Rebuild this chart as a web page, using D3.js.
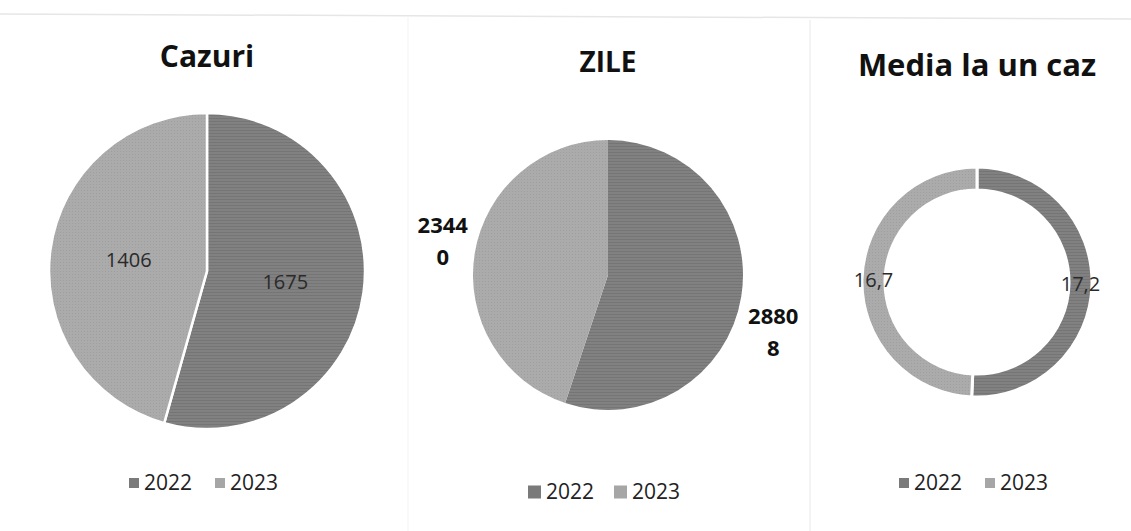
<!DOCTYPE html>
<html>
<head>
<meta charset="utf-8">
<script src="https://cdn.jsdelivr.net/npm/d3@7"></script>
<style>
  body { margin: 0; background: #fff; }
  svg { display: block; font-family: "Open Sans", sans-serif; }
</style>
</head>
<body>
<div id="chart"></div>
<script>
// data
var years = ["2022", "2023"];
var cazuri = [1675, 1406];
var zile = [28808, 23440];
var media = [17.2, 16.7];
var titles = ["Cazuri", "ZILE", "Media la un caz"];

var W = 1131, H = 531;
var svg = d3.select("#chart").append("svg").attr("width", W).attr("height", H);

// hatch-like fills to mimic the scanned texture
var defs = svg.append("defs");
var p1 = defs.append("pattern").attr("id", "pat2022").attr("patternUnits", "userSpaceOnUse")
  .attr("width", 4).attr("height", 3);
p1.append("rect").attr("width", 4).attr("height", 3).attr("fill", "#818181");
p1.append("rect").attr("width", 4).attr("height", 1).attr("fill", "#757575");
var p2 = defs.append("pattern").attr("id", "pat2023").attr("patternUnits", "userSpaceOnUse")
  .attr("width", 3).attr("height", 3);
p2.append("rect").attr("width", 3).attr("height", 3).attr("fill", "#ababab");
p2.append("rect").attr("width", 1).attr("height", 1).attr("fill", "#9e9e9e");

var colour = d3.scaleOrdinal().domain(years).range(["url(#pat2022)", "url(#pat2023)"]);
var swatch = d3.scaleOrdinal().domain(years).range(["#7a7a7a", "#a6a6a6"]);

// faint panel borders from the scan
svg.append("line").attr("x1", 0).attr("y1", 14).attr("x2", W).attr("y2", 19)
  .attr("stroke", "#e6e6e6").attr("stroke-width", 1.5);
svg.append("line").attr("x1", 408).attr("y1", 16).attr("x2", 408).attr("y2", H)
  .attr("stroke", "#f3f3f3");
svg.append("line").attr("x1", 810).attr("y1", 20).attr("x2", 810).attr("y2", H)
  .attr("stroke", "#e8e8e8");

var commaFmt = d3.formatLocale({decimal: ",", thousands: "", grouping: [3], currency: ["", ""]}).format(".1f");

var pie = d3.pie().sort(null).value(function (d) { return d; });

function rows(values) {
  return pie(values).map(function (a, i) { a.year = years[i]; return a; });
}

// draws one legend row centred on cx
function legend(g, cx, y, size) {
  var itemW = 86;
  var lg = g.append("g").attr("transform", "translate(" + (cx - itemW + 4) + "," + y + ")");
  years.forEach(function (yr, i) {
    var it = lg.append("g").attr("transform", "translate(" + (i * itemW) + ",0)");
    it.append("rect").attr("x", 0).attr("y", -size / 2).attr("width", size).attr("height", size)
      .attr("fill", swatch(yr));
    it.append("text").attr("x", size + 5).attr("y", 0).attr("dy", "0.35em")
      .style("font-size", "21px").attr("fill", "#222").text(yr);
  });
}

function title(g, cx, y, txt, size) {
  g.append("text").attr("x", cx).attr("y", y).attr("text-anchor", "middle")
    .style("font-size", size + "px").style("font-weight", "bold").attr("fill", "#111").text(txt);
}

// ---- Cazuri: full pie with white separator, labels inside
(function () {
  var cx = 207, cy = 271, r = 158;
  var g = svg.append("g");
  title(g, cx, 67, titles[0], 30);
  var arc = d3.arc().innerRadius(0).outerRadius(r);
  var lab = d3.arc().innerRadius(r * 0.5).outerRadius(r * 0.5);
  var pg = g.append("g").attr("transform", "translate(" + cx + "," + cy + ")");
  var data = rows(cazuri);
  pg.selectAll("path").data(data).enter().append("path")
    .attr("d", arc).attr("fill", function (d) { return colour(d.year); })
    .attr("stroke", "#fff").attr("stroke-width", 2.5);
  pg.selectAll("text").data(data).enter().append("text")
    .attr("transform", function (d) { return "translate(" + lab.centroid(d) + ")"; })
    .attr("text-anchor", "middle").attr("dy", "0.35em")
    .style("font-size", "20px").attr("fill", "#2a2a2a")
    .text(function (d) { return d.value; });
  legend(g, cx + 4, 483, 10);
})();

// ---- ZILE: pie with bold wrapped labels outside
(function () {
  var cx = 608, cy = 275, r = 135;
  var g = svg.append("g");
  title(g, cx, 72, titles[1], 28);
  var arc = d3.arc().innerRadius(0).outerRadius(r);
  var lab = d3.arc().innerRadius(r * 1.24).outerRadius(r * 1.24);
  var pg = g.append("g").attr("transform", "translate(" + cx + "," + cy + ")");
  var data = rows(zile);
  pg.selectAll("path").data(data).enter().append("path")
    .attr("d", arc).attr("fill", function (d) { return colour(d.year); });
  var t = pg.selectAll("text").data(data).enter().append("text")
    .attr("transform", function (d) {
      var c = lab.centroid(d);
      // the label box on the right side sits lower, as in the original
      var shift = c[0] > 0 ? 30 : -7;
      return "translate(" + c[0] + "," + (c[1] + shift) + ")";
    })
    .attr("text-anchor", "middle")
    .style("font-size", "22px").style("font-weight", "bold").attr("fill", "#111");
  // label box is too narrow: wraps after four digits
  t.each(function (d) {
    var s = String(d.value);
    var parts = [s.slice(0, 4), s.slice(4)];
    var el = d3.select(this);
    parts.forEach(function (p, i) {
      el.append("tspan").attr("x", 0).attr("y", (i - 0.5) * 32).attr("dy", "0.35em").text(p);
    });
  });
  legend(g, cx + 2, 492, 13);
})();

// ---- Media la un caz: doughnut
(function () {
  var cx = 977, cy = 282, r = 115;
  var g = svg.append("g");
  title(g, cx, 76, titles[2], 31);
  var arc = d3.arc().innerRadius(r * 0.8).outerRadius(r);
  var pg = g.append("g").attr("transform", "translate(" + cx + "," + cy + ")");
  var data = rows(media);
  pg.selectAll("path").data(data).enter().append("path")
    .attr("d", arc).attr("fill", function (d) { return colour(d.year); })
    .attr("stroke", "#fff").attr("stroke-width", 3);
  pg.selectAll("text").data(data).enter().append("text")
    .attr("transform", function (d) { return "translate(" + arc.centroid(d) + ")"; })
    .attr("text-anchor", "middle").attr("dy", "0.35em")
    .style("font-size", "20px").attr("fill", "#2a2a2a")
    .text(function (d) { return commaFmt(d.value); });
  legend(g, cx + 4, 483, 10);
})();
</script>
</body>
</html>
